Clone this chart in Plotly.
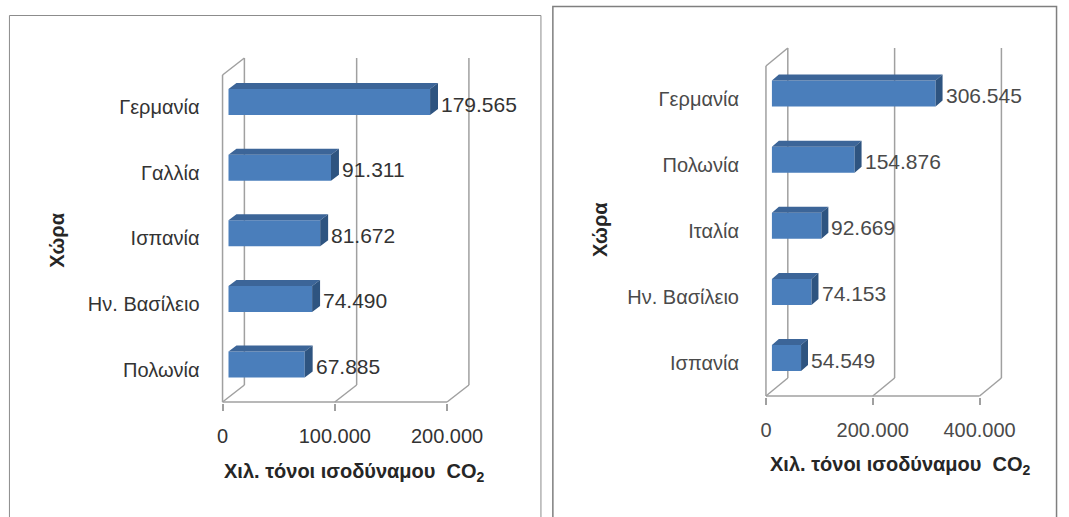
import plotly.graph_objects as go

W, H = 1069, 517

# ---- data -------------------------------------------------------------
left_countries = ["Γερμανία", "Γαλλία", "Ισπανία", "Ην. Βασίλειο", "Πολωνία"]
left_values = [179565, 91311, 81672, 74490, 67885]
left_tickvals = [0, 100000, 200000]
left_ticktext = ["0", "100.000", "200.000"]

right_countries = ["Γερμανία", "Πολωνία", "Ιταλία", "Ην. Βασίλειο", "Ισπανία"]
right_values = [306545, 154876, 92669, 74153, 54549]
right_tickvals = [0, 200000, 400000]
right_ticktext = ["0", "200.000", "400.000"]

x_title = "Χιλ. τόνοι ισοδύναμου\u00a0 CO<sub>2</sub>"
y_title = "Χώρα"

# ---- styling ----------------------------------------------------------
FONT = "Liberation Sans, Arial, sans-serif"
FRONT = "#4a7ebb"
TOP = "#3c6598"
SIDE = "#2e5480"
WALL = "#a0a0a0"

# Geometry of each panel in pixels: where 0 sits on the front floor edge,
# pixels per unit, category spacing, floor/wall extents and the 3-D offsets.
LEFT = dict(suffix="", zero=223, unit_px=226 / 200000, cat0=369.5, step=65.6,
            floor=402, top=58, depth=(22, 17), bar_shift=(6, 5),
            bar_depth=(8, 6), bar_half=13, area=(218, 482, 50, 403),
            ystandoff=17, text="#333333",
            xtitle=(356, 472), ytitle=(56, 240))
RIGHT = dict(suffix="2", zero=770, unit_px=215 / 400000, cat0=363, step=66.1,
             floor=396, top=48, depth=(22, 18), bar_shift=(6, 5),
             bar_depth=(7, 6), bar_half=13, area=(765, 1015, 40, 397),
             ystandoff=21, text="#4a4a4a",
             xtitle=(905, 465), ytitle=(603, 230))

fig = go.Figure()
shapes = []
annotations = []


def build(panel, countries, values, tickvals, ticktext):
    s = panel["suffix"]
    xref, yref = "x" + s, "y" + s
    u, st = panel["unit_px"], panel["step"]
    dxu = lambda px: px / u          # horizontal pixels -> data units
    dyu = lambda px: px / st         # upward pixels -> category units
    n = len(countries)
    pos = [n - 1 - i for i in range(n)]

    ax0, ax1, ay0, ay1 = panel["area"]
    xr = [(ax0 - panel["zero"]) / u, (ax1 - panel["zero"]) / u]
    yr = [(panel["cat0"] - ay1) / st, (panel["cat0"] - ay0) / st]
    floor_y = (panel["cat0"] - panel["floor"]) / st
    top_y = (panel["cat0"] - panel["top"]) / st
    D0, D1 = panel["depth"]

    # walls and floor of the 3-D frame
    def line(x0, y0, x1, y1):
        shapes.append(dict(type="line", xref=xref, yref=yref, x0=x0, y0=y0,
                           x1=x1, y1=y1, layer="below",
                           line=dict(color=WALL, width=1.5)))

    for v in tickvals:
        line(v + dxu(D0), floor_y + dyu(D1), v + dxu(D0), top_y)
        line(v, floor_y, v + dxu(D0), floor_y + dyu(D1))
    line(tickvals[0], floor_y, tickvals[-1], floor_y)
    line(0, floor_y, 0, top_y - dyu(D1))
    line(0, top_y - dyu(D1), dxu(D0), top_y)

    # front faces of the bars
    base = dxu(panel["bar_shift"][0])
    half = dyu(panel["bar_half"])
    lift = dyu(panel["bar_shift"][1])
    fig.add_trace(go.Bar(
        orientation="h", y=pos, x=values, base=base,
        width=2 * half, offset=-half + lift,
        marker=dict(color=FRONT, line=dict(width=0)),
        xaxis=xref, yaxis=yref, showlegend=False, hoverinfo="skip"))

    # top and side faces
    bx, by = dxu(panel["bar_depth"][0]), dyu(panel["bar_depth"][1])
    tx, ty, sx, sy = [], [], [], []
    for p, v in zip(pos, values):
        xa, xb = base, base + v
        yt, yb = p + lift + half, p + lift - half
        tx += [xa, xa + bx, xb + bx, xb, xa, None]
        ty += [yt, yt + by, yt + by, yt, yt, None]
        sx += [xb, xb + bx, xb + bx, xb, xb, None]
        sy += [yt, yt + by, yb + by, yb, yt, None]
    for xs, ys, c in ((tx, ty, TOP), (sx, sy, SIDE)):
        fig.add_trace(go.Scatter(
            x=xs, y=ys, mode="lines", fill="toself", fillcolor=c,
            line=dict(width=0, color=c), xaxis=xref, yaxis=yref,
            showlegend=False, hoverinfo="skip"))

    # value labels
    for p, v in zip(pos, values):
        annotations.append(dict(
            xref=xref, yref=yref, x=base + v, y=p, xanchor="left",
            yanchor="middle", xshift=panel["bar_depth"][0] + 1, yshift=3,
            text=f"{v:,}".replace(",", "."), showarrow=False,
            font=dict(family=FONT, size=21, color=panel["text"])))

    # axis titles
    tx0, ty0 = panel["xtitle"]
    annotations.append(dict(
        xref="paper", yref="paper", x=tx0 / W, y=1 - ty0 / H,
        xanchor="center", yanchor="middle", showarrow=False,
        text="<b>" + x_title + "</b>",
        font=dict(family=FONT, size=20, color="#262626")))
    yx, yy = panel["ytitle"]
    annotations.append(dict(
        xref="paper", yref="paper", x=yx / W, y=1 - yy / H,
        xanchor="center", yanchor="middle", showarrow=False, textangle=-90,
        text="<b>" + y_title + "</b>",
        font=dict(family=FONT, size=20, color="#262626")))

    fig.update_layout(**{
        "xaxis" + s: dict(
            domain=[ax0 / W, ax1 / W], range=xr, anchor=yref,
            tickvals=tickvals, ticktext=ticktext, ticks="outside",
            ticklen=7, tickwidth=1.5, tickcolor=WALL, showgrid=False,
            zeroline=False, showline=False, ticklabelstandoff=8,
            tickfont=dict(family=FONT, size=20, color=panel["text"])),
        "yaxis" + s: dict(
            domain=[1 - ay1 / H, 1 - ay0 / H], range=yr, anchor=xref,
            tickvals=pos, ticktext=countries, ticks="", showgrid=False,
            zeroline=False, showline=False,
            ticklabelstandoff=panel["ystandoff"],
            tickfont=dict(family=FONT, size=20, color=panel["text"])),
    })


build(LEFT, left_countries, left_values, left_tickvals, left_ticktext)
build(RIGHT, right_countries, right_values, right_tickvals, right_ticktext)

# frames around the two charts
shapes.append(dict(type="rect", xref="paper", yref="paper",
                   x0=8.5 / W, x1=543.5 / W, y0=-0.05, y1=1 - 15.5 / H,
                   line=dict(color="#8c8c8c", width=1)))
shapes.append(dict(type="rect", xref="paper", yref="paper",
                   x0=555.5 / W, x1=1062.5 / W, y0=-0.05, y1=1 - 6.5 / H,
                   line=dict(color="#7f7f7f", width=1.5)))

fig.update_layout(
    width=W, height=H, margin=dict(l=0, r=0, t=0, b=0),
    paper_bgcolor="white", plot_bgcolor="rgba(0,0,0,0)",
    shapes=shapes, annotations=annotations, barmode="overlay",
    font=dict(family=FONT),
)

fig.write_html("out.html")
